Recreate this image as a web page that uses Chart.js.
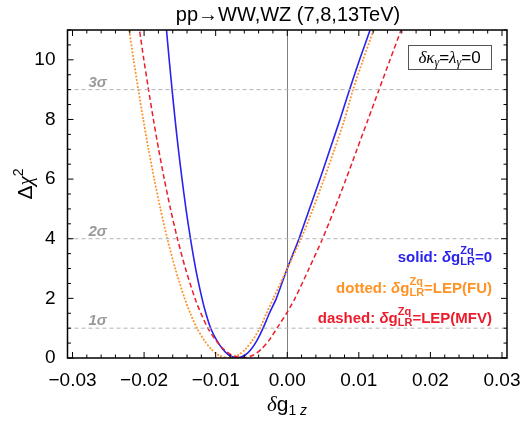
<!DOCTYPE html>
<html lang="en">
<head>
<meta charset="UTF-8">
<title>delta chi2 vs dg1z</title>
<style>
    html, body { margin: 0; padding: 0; background: #fff; }
    .chartBox { width: 523px; height: 422px; }
</style>
</head>
<body>

<div class="chartBox">
    <canvas id="chi2Chart"></canvas>
</div>

<script src="https://cdn.jsdelivr.net/npm/chart.js"></script>
<script>
    // Δχ² levels shared by all three curves (read left branch, minimum, right branch)
    const levels = [12, 11, 10, 9, 8, 7, 6, 5, 4, 3, 2, 1.5, 1, 0.6, 0.3, 0.1, 0,
        0.1, 0.3, 0.6, 1, 1.5, 2, 3, 4, 5, 6, 7, 8, 9, 10, 11, 12];

    // solid: dg_LR^Zq = 0
    const solidX = [-0.01723, -0.01687, -0.01649, -0.01609, -0.01567, -0.01521, -0.01470, -0.01415, -0.01352, -0.01280, -0.01191, -0.01137, -0.01070,
        -0.00987, -0.00903, -0.00818, -0.00701, -0.00586, -0.00502, -0.00420,
        -0.00338, -0.00250, -0.00152, 0.00000, 0.00164, 0.00310, 0.00457, 0.00597, 0.00737, 0.00870, 0.01010, 0.01157, 0.01303];

    // dotted: dg_LR^Zq = LEP(FU)
    const dottedX = [-0.02267, -0.02208, -0.02146, -0.02080, -0.02011, -0.01938, -0.01858, -0.01771, -0.01675, -0.01565, -0.01434, -0.01355, -0.01261,
        -0.01162, -0.01063, -0.00961, -0.00823, -0.00685, -0.00583, -0.00484,
        -0.00382, -0.00291, -0.00193, 0.00000, 0.00192, 0.00360, 0.00513, 0.00660, 0.00800, 0.00919, 0.01059, 0.01206, 0.01360];

    // dashed: dg_LR^Zq = LEP(MFV)
    const dashedX = [-0.02122, -0.02064, -0.02003, -0.01938, -0.01870, -0.01797, -0.01718, -0.01631, -0.01534, -0.01422, -0.01290, -0.01207, -0.01109,
        -0.01000, -0.00891, -0.00779, -0.00626, -0.00473, -0.00361, -0.00252,
        -0.00144, -0.00010, 0.00108, 0.00304, 0.00493, 0.00661, 0.00821, 0.00975, 0.01129, 0.01282, 0.01436, 0.01590, 0.01744];

    // sigma levels
    const sigmaLevels = [1, 4, 9];
    const sigmaLabels = ['1σ', '2σ', '3σ'];

    // tick labels
    const xTicks = [-0.03, -0.02, -0.01, 0, 0.01, 0.02, 0.03];
    const yTicks = [0, 2, 4, 6, 8, 10];

    const xMin = -0.0307, xMax = 0.0307, xStep = 0.01, xMinor = 0.002;
    const yMin = 0, yMax = 11, yStep = 2, yMinor = 0.5;

    const BLUE = '#2a22ee';
    const ORANGE = '#ff9326';
    const RED = '#ec1c2c';

    const pts = (xs, ys) => xs.map((x, i) => ({ x: x, y: ys[i] }));
    const onStep = (v, step) => Math.abs(v / step - Math.round(v / step)) < 1e-6;

    const sigmaSets = sigmaLevels.map(lv => ({
        data: [{ x: xMin, y: lv }, { x: xMax, y: lv }],
        borderColor: '#b4b4b4',
        borderWidth: 1,
        borderDash: [4, 3],
        pointRadius: 0,
        showLine: true
    }));

    const data = {
        datasets: [
            ...sigmaSets,
            {
                label: 'dashed',
                data: pts(dashedX, levels),
                borderColor: RED,
                borderWidth: 1.5,
                borderDash: [5, 3],
                pointRadius: 0,
                showLine: true,
                tension: 0.25
            },
            {
                label: 'dotted',
                data: pts(dottedX, levels),
                borderColor: ORANGE,
                borderWidth: 2,
                borderDash: [0.1, 3.4],
                borderCapStyle: 'round',
                pointRadius: 0,
                showLine: true,
                tension: 0.25
            },
            {
                label: 'solid',
                data: pts(solidX, levels),
                borderColor: BLUE,
                borderWidth: 1.6,
                pointRadius: 0,
                showLine: true,
                tension: 0.25
            }
        ]
    };

    // text with stacked super/subscripts, right aligned
    function drawRich(ctx, parts, xRight, y, color) {
        let total = 0;
        parts.forEach(p => {
            ctx.font = p.font;
            p.w = p.t !== undefined ? ctx.measureText(p.t).width
                : Math.max(ctx.measureText(p.sup).width, ctx.measureText(p.sub).width);
            total += p.w;
        });
        let x = xRight - total;
        ctx.fillStyle = color;
        ctx.textAlign = 'left';
        ctx.textBaseline = 'alphabetic';
        parts.forEach(p => {
            ctx.font = p.font;
            if (p.t !== undefined) {
                ctx.fillText(p.t, x, y);
            } else {
                ctx.fillText(p.sup, x, y - 8);
                ctx.fillText(p.sub, x, y + 3);
            }
            x += p.w;
        });
    }

    const decorPlugin = {
        id: 'decor',
        beforeDatasetsDraw(chart) {
            const { ctx, chartArea: a, scales: { x } } = chart;
            ctx.save();
            ctx.strokeStyle = '#808080';
            ctx.lineWidth = 1;
            const x0 = Math.round(x.getPixelForValue(0)) + 0.5;
            ctx.beginPath();
            ctx.moveTo(x0, a.top);
            ctx.lineTo(x0, a.bottom);
            ctx.stroke();
            ctx.restore();
        },
        afterDatasetsDraw(chart) {
            const { ctx, chartArea: a, scales: { x, y } } = chart;
            ctx.save();

            // frame
            ctx.strokeStyle = '#000';
            ctx.lineWidth = 1.5;
            ctx.strokeRect(a.left, a.top, a.right - a.left, a.bottom - a.top);

            // inward ticks on all sides
            ctx.lineWidth = 1;
            ctx.beginPath();
            for (let v = xTicks[0]; v <= xTicks[xTicks.length - 1] + 1e-9; v += xMinor) {
                const len = onStep(v, xStep) ? 6 : 3.5;
                const px = x.getPixelForValue(v);
                ctx.moveTo(px, a.bottom); ctx.lineTo(px, a.bottom - len);
                ctx.moveTo(px, a.top); ctx.lineTo(px, a.top + len);
            }
            for (let v = yMin; v <= yMax + 1e-9; v += yMinor) {
                const len = onStep(v, yStep) ? 6 : 3.5;
                const py = y.getPixelForValue(v);
                ctx.moveTo(a.left, py); ctx.lineTo(a.left + len, py);
                ctx.moveTo(a.right, py); ctx.lineTo(a.right - len, py);
            }
            ctx.stroke();

            // sigma labels
            ctx.fillStyle = '#9a9a9a';
            ctx.font = 'italic bold 15px "Liberation Sans"';
            ctx.textAlign = 'center';
            ctx.textBaseline = 'alphabetic';
            sigmaLevels.forEach((lv, i) => {
                ctx.fillText(sigmaLabels[i], x.getPixelForValue(-0.0265), y.getPixelForValue(lv) - 3);
            });

            // box: dk_gamma = lambda_gamma = 0
            ctx.fillStyle = '#fff';
            ctx.fillRect(408, 45, 83, 24);
            ctx.strokeStyle = '#555';
            ctx.lineWidth = 1;
            ctx.strokeRect(408.5, 45.5, 83, 24);
            drawBoxText(ctx);

            // legend texts
            const big = 'bold 15px "Liberation Sans"';
            const bigIt = 'italic bold 15px "Liberation Sans"';
            const small = 'bold 11px "Liberation Sans"';
            const rows = [
                ['solid: ', '=0', BLUE, 262],
                ['dotted: ', '=LEP(FU)', ORANGE, 293],
                ['dashed: ', '=LEP(MFV)', RED, 322.5]
            ];
            rows.forEach(r => {
                drawRich(ctx, [
                    { t: r[0], font: big },
                    { t: 'δ', font: bigIt },
                    { t: 'g', font: big },
                    { sup: 'Zq', sub: 'LR', font: small },
                    { t: r[1], font: big }
                ], 492, r[3], r[2]);
            });

            // title
            ctx.fillStyle = '#000';
            ctx.font = '20px "Liberation Sans"';
            ctx.textAlign = 'center';
            ctx.fillText('pp→WW,WZ (7,8,13TeV)', 288, 21);

            // x title
            ctx.textAlign = 'left';
            ctx.font = 'italic 21px "Liberation Serif"';
            const wD = ctx.measureText('δ').width;
            ctx.font = '21px "Liberation Sans"';
            const wG = ctx.measureText('g').width;
            ctx.font = '14px "Liberation Sans"';
            const w1 = ctx.measureText('1 ').width;
            ctx.font = 'italic 14px "Liberation Sans"';
            const wZ = ctx.measureText('z').width;
            let xs = 287 - (wD + wG + w1 + wZ) / 2;
            ctx.font = 'italic 21px "Liberation Serif"';
            ctx.fillText('δ', xs, 411); xs += wD;
            ctx.font = '21px "Liberation Sans"';
            ctx.fillText('g', xs, 411); xs += wG;
            ctx.font = '14px "Liberation Sans"';
            ctx.fillText('1 ', xs, 415); xs += w1;
            ctx.font = 'italic 14px "Liberation Sans"';
            ctx.fillText('z', xs, 415);

            // y title
            ctx.save();
            ctx.translate(32, 184);
            ctx.rotate(-Math.PI / 2);
            ctx.font = '21px "Liberation Sans"';
            const wDel = ctx.measureText('Δ').width;
            ctx.font = 'italic 21px "Liberation Serif"';
            const wChi = ctx.measureText('χ').width;
            ctx.font = '14px "Liberation Sans"';
            const w2 = ctx.measureText('2').width;
            let ys = -(wDel + wChi + w2) / 2;
            ctx.font = '21px "Liberation Sans"';
            ctx.fillText('Δ', ys, 0); ys += wDel;
            ctx.font = 'italic 21px "Liberation Serif"';
            ctx.fillText('χ', ys, 0); ys += wChi;
            ctx.font = '14px "Liberation Sans"';
            ctx.fillText('2', ys, -9);
            ctx.restore();

            ctx.restore();
        }
    };

    function drawBoxText(ctx) {
        const it = 'italic 17px "Liberation Serif"';
        const sub = 'italic 12px "Liberation Serif"';
        const nor = '17px "Liberation Sans"';
        const parts = [
            [it, 'δκ', 0], [sub, 'γ', 3], [nor, '=', 0], [it, 'λ', 0], [sub, 'γ', 3], [nor, '=0', 0]
        ];
        let total = 0;
        parts.forEach(p => { ctx.font = p[0]; total += ctx.measureText(p[1]).width; });
        let x = 449.5 - total / 2;
        ctx.fillStyle = '#000';
        ctx.textAlign = 'left';
        ctx.textBaseline = 'alphabetic';
        parts.forEach(p => {
            ctx.font = p[0];
            ctx.fillText(p[1], x, 63 + p[2]);
            x += ctx.measureText(p[1]).width;
        });
    }

    Chart.defaults.font.family = '"Liberation Sans"';
    Chart.defaults.color = '#000';

    const config = {
        type: 'scatter',
        data,
        options: {
            responsive: true,
            maintainAspectRatio: false,
            animation: false,
            layout: { padding: { top: 30, right: 16, left: 0, bottom: 0 } },
            plugins: {
                legend: { display: false },
                tooltip: { enabled: false }
            },
            scales: {
                x: {
                    type: 'linear',
                    min: xMin,
                    max: xMax,
                    grid: { display: false },
                    border: { display: false },
                    afterBuildTicks: s => { s.ticks = xTicks.map(v => ({ value: v })); },
                    ticks: {
                        padding: 3,
                        maxRotation: 0,
                        autoSkip: false,
                        font: { size: 19 },
                        callback: v => Math.abs(v) < 1e-9 ? '0.00' : v.toFixed(2).replace('-', '−')
                    },
                    afterFit: s => { s.height = 64; s.paddingLeft = 0; s.paddingRight = 0; }
                },
                y: {
                    type: 'linear',
                    min: yMin,
                    max: yMax,
                    grid: { display: false },
                    border: { display: false },
                    afterBuildTicks: s => { s.ticks = yTicks.map(v => ({ value: v })); },
                    ticks: {
                        padding: 4,
                        autoSkip: false,
                        font: { size: 19 }
                    },
                    afterFit: s => { s.width = 67.5; s.paddingTop = 0; s.paddingBottom = 0; }
                }
            }
        },
        plugins: [decorPlugin]
    };

    const ctx = document.getElementById('chi2Chart');
    const chi2Chart = new Chart(ctx, config);
</script>

</body>
</html>
